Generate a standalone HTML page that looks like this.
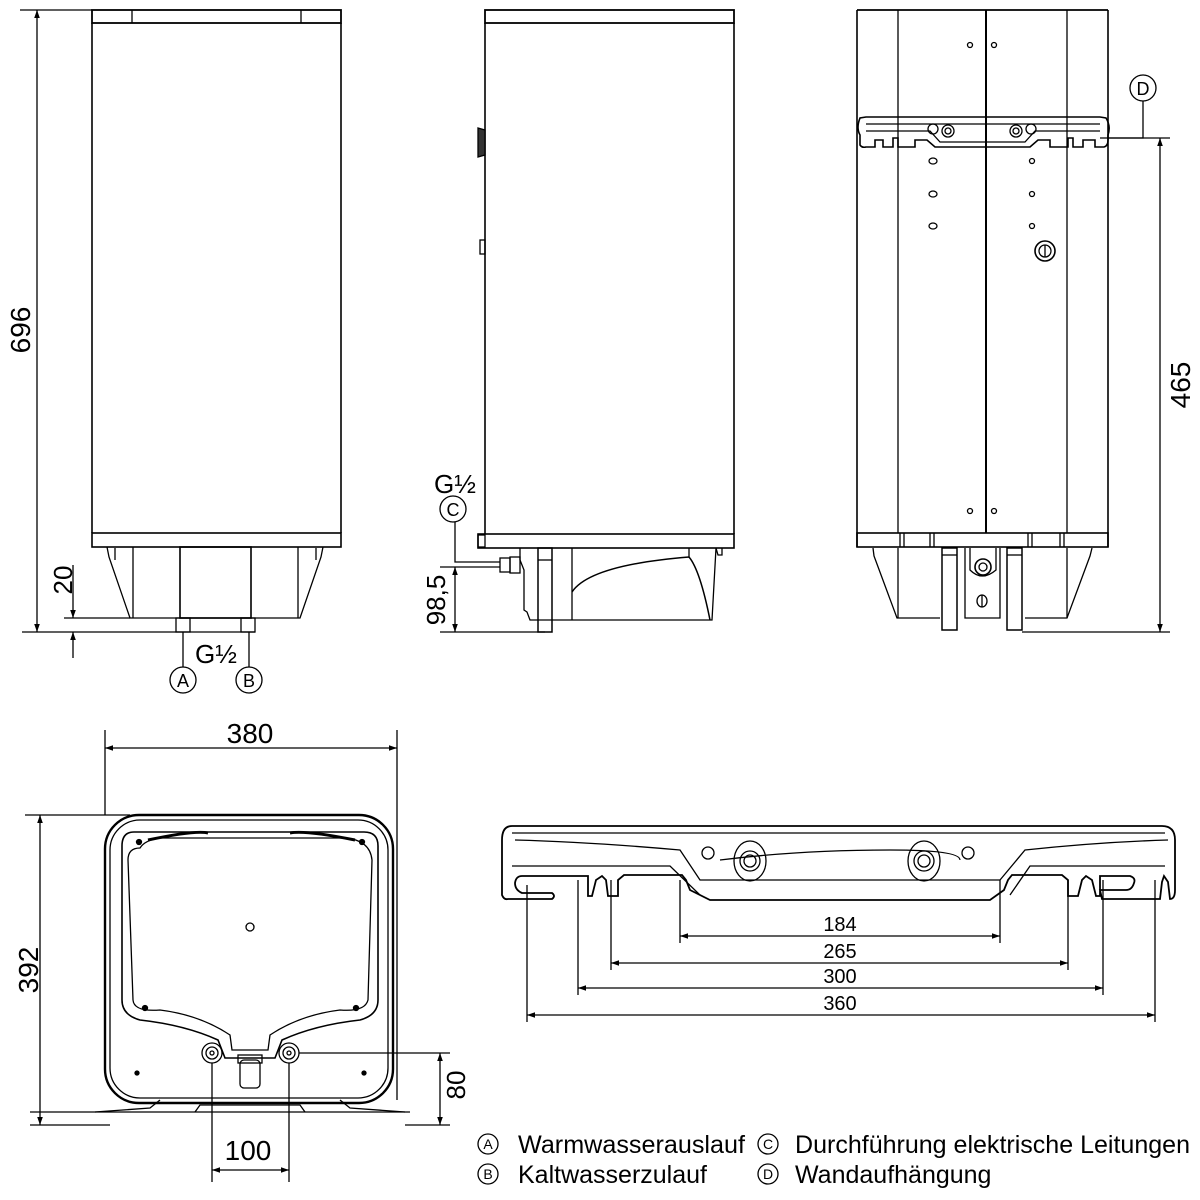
<!DOCTYPE html>
<html><head><meta charset="utf-8"><style>
html,body{margin:0;padding:0;background:#fff;}
svg{display:block;font-family:"Liberation Sans",Arial,sans-serif;}
</style></head><body>
<svg width="1200" height="1200" viewBox="0 0 1200 1200" xmlns="http://www.w3.org/2000/svg">
<defs>
<marker id="ar" viewBox="0 0 10 10" refX="10" refY="5" markerWidth="8" markerHeight="8" orient="auto-start-reverse" markerUnits="userSpaceOnUse"><path d="M0,1.5 L10,5 L0,8.5 Z" fill="#000"/></marker>
</defs>
<g fill="none" stroke="#000" stroke-width="1.3">
<!-- VIEW 1 front -->
<rect x="92" y="10" width="249" height="13" stroke-width="1.8"/>
<line x1="132" y1="10" x2="132" y2="23"/><line x1="301" y1="10" x2="301" y2="23"/>
<line x1="92" y1="23" x2="92" y2="533" stroke-width="1.6"/><line x1="341" y1="23" x2="341" y2="533" stroke-width="1.6"/>
<rect x="92" y="533" width="249" height="14" stroke-width="1.6"/>
<path d="M107,547 L109,557 L130,618 L300,618 L321,557 L323,547"/>
<line x1="115" y1="548" x2="115" y2="560"/><line x1="316" y1="548" x2="316" y2="560"/>
<line x1="133" y1="547" x2="133" y2="618"/><line x1="298" y1="547" x2="298" y2="618"/>
<rect x="180" y="547" width="71" height="71" stroke-width="1.6"/>
<rect x="176" y="618" width="14" height="14"/><rect x="241" y="618" width="14" height="14"/>
<line x1="20" y1="10" x2="92" y2="10"/>
<line x1="22" y1="632" x2="255" y2="632"/>
<line x1="37" y1="10" x2="37" y2="632" marker-start="url(#ar)" marker-end="url(#ar)"/>
<line x1="64" y1="618" x2="130" y2="618"/>
<line x1="73" y1="565" x2="73" y2="618" marker-end="url(#ar)"/>
<line x1="73" y1="658" x2="73" y2="632" marker-end="url(#ar)"/>
<line x1="183" y1="632" x2="183" y2="667"/><line x1="249" y1="632" x2="249" y2="667"/>
<circle cx="183" cy="680" r="13"/><circle cx="249" cy="680" r="13"/>

<!-- VIEW 2 side -->
<rect x="485" y="10" width="249" height="13" stroke-width="1.8"/>
<line x1="485" y1="23" x2="485" y2="534" stroke-width="1.6"/><line x1="734" y1="23" x2="734" y2="534" stroke-width="1.6"/>
<rect x="478" y="534" width="256" height="14" stroke-width="1.6"/>
<rect x="478" y="535" width="7" height="12"/>
<path d="M478,128 L485,130 L485,155 L478,157 Z" fill="#333"/>
<rect x="480" y="240" width="5" height="14"/>
<path d="M520,548 L520,560 L524,570 L524,610 L527,612 L530,620 L712,620 L716,548"/>
<path d="M716,548 L718,555 L722,555 L722,548"/>
<rect x="538" y="548" width="14" height="84" stroke-width="1.5"/>
<line x1="538" y1="560" x2="552" y2="560"/>
<line x1="572" y1="548" x2="572" y2="620"/>
<line x1="689" y1="548" x2="689" y2="557"/>
<path d="M572,592 Q590,565 689,557 Q700,570 710,620" stroke-width="1.5"/>
<rect x="500" y="558" width="10" height="14"/><rect x="510" y="557" width="10" height="16"/>
<circle cx="453" cy="509" r="13"/>
<path d="M455,522 L455,562 L500,562"/>
<line x1="440" y1="567" x2="500" y2="567"/>
<line x1="440" y1="632" x2="545" y2="632"/>
<line x1="455" y1="567" x2="455" y2="632" marker-start="url(#ar)" marker-end="url(#ar)"/>

<!-- VIEW 3 back -->
<line x1="857" y1="10" x2="1108" y2="10" stroke-width="1.8"/>
<line x1="857" y1="10" x2="857" y2="547" stroke-width="1.6"/><line x1="1108" y1="10" x2="1108" y2="547" stroke-width="1.6"/>
<line x1="898" y1="10" x2="898" y2="533"/><line x1="1067" y1="10" x2="1067" y2="533"/>
<line x1="986" y1="10" x2="986" y2="533" stroke-width="2"/>
<rect x="857" y="533" width="251" height="14" stroke-width="1.6"/>
<line x1="900" y1="533" x2="900" y2="547"/><line x1="904" y1="533" x2="904" y2="547"/>
<line x1="930" y1="533" x2="930" y2="547"/><line x1="934" y1="533" x2="934" y2="547"/>
<line x1="1028" y1="533" x2="1028" y2="547"/><line x1="1032" y1="533" x2="1032" y2="547"/>
<line x1="1060" y1="533" x2="1060" y2="547"/><line x1="1064" y1="533" x2="1064" y2="547"/>
<circle cx="970" cy="45" r="2.5"/><circle cx="994" cy="45" r="2.5"/>
<circle cx="970" cy="511" r="2.5"/><circle cx="994" cy="511" r="2.5"/>
<ellipse cx="933" cy="161" rx="4" ry="3"/><ellipse cx="933" cy="194" rx="4" ry="3"/><ellipse cx="933" cy="226" rx="4" ry="3"/>
<circle cx="1032" cy="161" r="2.5"/><circle cx="1032" cy="194" r="2.5"/><circle cx="1032" cy="226" r="2.5"/>
<circle cx="1045" cy="251" r="10" stroke-width="1.6"/><circle cx="1045" cy="251" r="6"/><line x1="1045" y1="245" x2="1045" y2="257"/>
<path d="M860,118 Q856,128 860,135 L860,145 Q862,148 866,147 L875,147 L875,140 L883,140 L883,147 L893,147 L893,138 L898,138 L898,147 L915,147 L915,140 L927,140 L935,147 L1030,147 L1038,140 L1050,140 L1050,147 L1068,147 L1068,138 L1073,138 L1073,147 L1083,147 L1083,140 L1095,140 L1095,147 L1104,147 Q1108,146 1108,140 L1108,135 Q1111,126 1106,118 L1100,117 L866,117 Z" stroke-width="1.6"/>
<path d="M866,124 L1100,124"/><path d="M866,131 L930,131 L940,142 L1025,142 L1035,131 L1100,131"/>
<circle cx="933" cy="129" r="5"/><circle cx="948" cy="131" r="6"/><circle cx="948" cy="131" r="3"/>
<circle cx="1031" cy="129" r="5"/><circle cx="1016" cy="131" r="6"/><circle cx="1016" cy="131" r="3"/>
<path d="M873,548 L874,556 L897,618 L940,618 M1025,618 L1067,618 L1090,556 L1092,548"/>
<line x1="898" y1="548" x2="898" y2="618"/><line x1="1067" y1="548" x2="1067" y2="618"/>
<rect x="942" y="548" width="15" height="82" stroke-width="1.5"/><rect x="1007" y="548" width="15" height="82" stroke-width="1.5"/>
<line x1="942" y1="555" x2="957" y2="555"/><line x1="1007" y1="555" x2="1022" y2="555"/>
<path d="M965,548 L965,618 L1000,618 L1000,548"/>
<path d="M970,548 L970,570 Q982,582 996,570 L996,548"/>
<circle cx="983" cy="567" r="8" stroke-width="1.6"/><circle cx="983" cy="567" r="4"/>
<ellipse cx="982" cy="601" rx="5" ry="6"/><line x1="982" y1="595" x2="982" y2="607"/>
<circle cx="1143" cy="88" r="13"/>
<path d="M1143,101 L1143,138 L1108,138"/>
<line x1="1100" y1="138" x2="1170" y2="138"/>
<line x1="1022" y1="632" x2="1170" y2="632"/>
<line x1="1160" y1="138" x2="1160" y2="632" marker-start="url(#ar)" marker-end="url(#ar)"/>

<!-- TOP VIEW bottom-left -->
<rect x="105" y="815" width="288" height="288" rx="34" stroke-width="2.4"/>
<rect x="110" y="820" width="278" height="278" rx="30"/>
<path d="M134,832 L364,832 Q378,832 378,846 L378,1000 Q378,1015 360,1020 Q315,1025 282,1040 L275,1058 L225,1058 L218,1040 Q185,1025 140,1020 Q122,1015 122,1000 L122,846 Q122,832 134,832 Z" stroke-width="1.6"/>
<path d="M148,840 Q195,830 208,833 M290,833 Q305,830 355,840" stroke-width="3"/>
<path d="M140,848 Q145,840 160,838 L345,838 Q370,840 372,860 L368,1000 Q365,1012 340,1010 Q300,1015 270,1035 L268,1050 L232,1050 L230,1035 Q200,1015 160,1010 Q134,1012 133,1000 L128,860 Q128,848 140,848 Z"/>
<circle cx="250" cy="927" r="4"/>
<circle cx="139" cy="842" r="2.5" fill="#000"/><circle cx="362" cy="842" r="2.5" fill="#000"/>
<circle cx="145" cy="1008" r="2.5" fill="#000"/><circle cx="356" cy="1008" r="2.5" fill="#000"/>
<circle cx="137" cy="1073" r="2" fill="#000"/><circle cx="364" cy="1073" r="2" fill="#000"/>
<circle cx="212" cy="1053" r="10"/><circle cx="212" cy="1053" r="6"/><circle cx="212" cy="1053" r="2"/>
<circle cx="289" cy="1053" r="10"/><circle cx="289" cy="1053" r="6"/><circle cx="289" cy="1053" r="2"/>
<rect x="240" y="1060" width="20" height="28" rx="4"/>
<rect x="238" y="1055" width="24" height="8"/>
<path d="M95,1112 L150,1108 L160,1100 M340,1100 L350,1108 L405,1112 M195,1112 L200,1105 L300,1105 L305,1112"/>
<line x1="30" y1="1112" x2="410" y2="1112"/>
<line x1="105" y1="730" x2="105" y2="815"/><line x1="397" y1="730" x2="397" y2="1100"/>
<line x1="105" y1="748" x2="397" y2="748" marker-start="url(#ar)" marker-end="url(#ar)"/>
<line x1="25" y1="815" x2="130" y2="815"/>
<line x1="40" y1="815" x2="40" y2="1125" marker-start="url(#ar)" marker-end="url(#ar)"/>
<line x1="30" y1="1125" x2="110" y2="1125"/>
<line x1="212" y1="1063" x2="212" y2="1182"/><line x1="289" y1="1063" x2="289" y2="1182"/>
<line x1="212" y1="1170" x2="289" y2="1170" marker-start="url(#ar)" marker-end="url(#ar)"/>
<line x1="299" y1="1053" x2="450" y2="1053"/>
<line x1="405" y1="1125" x2="450" y2="1125"/>
<line x1="440" y1="1053" x2="440" y2="1125" marker-start="url(#ar)" marker-end="url(#ar)"/>

<!-- BRACKET -->
<path d="M512,826 Q502,826 502,840 L502,895 Q504,900 508,899 L552,899 Q556,896 552,893 L522,893 Q515,890 515,883 Q516,876 522,876 L588,876 L588,896 L592,896 L596,880 L602,876 L606,880 L608,896 L618,896 L618,880 L624,875 L682,875 L686,880 L690,890 L710,900 L990,900 L1004,890 L1008,880 L1012,875 L1062,875 L1068,880 L1068,896 L1078,896 L1082,880 L1086,876 L1092,880 L1096,896 L1100,896 L1100,876 L1130,876 Q1136,878 1134,883 Q1132,890 1126,890 L1100,890 L1102,899 L1160,899 L1162,882 L1164,876 L1168,882 L1170,899 Q1175,899 1175,890 L1175,840 Q1175,826 1162,826 Z" stroke-width="1.8"/>
<path d="M512,833 L1165,833 M512,866 L670,866 L700,895 M1010,895 L1030,866 L1165,866"/>
<path d="M515,840 Q590,842 680,850 L700,880 L1000,880 L1025,850 Q1100,842 1168,840"/>
<path d="M720,860 Q800,850 890,850 Q960,850 960,860"/>
<circle cx="708" cy="853" r="6"/><circle cx="968" cy="853" r="6"/>
<ellipse cx="750" cy="861" rx="16" ry="20"/><circle cx="750" cy="861" r="10"/><circle cx="750" cy="861" r="6"/>
<ellipse cx="924" cy="861" rx="16" ry="20"/><circle cx="924" cy="861" r="10"/><circle cx="924" cy="861" r="6"/>
<line x1="527" y1="885" x2="527" y2="1022"/><line x1="578" y1="880" x2="578" y2="995"/>
<line x1="611" y1="880" x2="611" y2="970"/><line x1="680" y1="880" x2="680" y2="943"/>
<line x1="1000" y1="880" x2="1000" y2="943"/><line x1="1068" y1="880" x2="1068" y2="970"/>
<line x1="1103" y1="880" x2="1103" y2="995"/><line x1="1155" y1="880" x2="1155" y2="1022"/>
<line x1="680" y1="936" x2="1000" y2="936" marker-start="url(#ar)" marker-end="url(#ar)"/>
<line x1="611" y1="963" x2="1068" y2="963" marker-start="url(#ar)" marker-end="url(#ar)"/>
<line x1="578" y1="988" x2="1103" y2="988" marker-start="url(#ar)" marker-end="url(#ar)"/>
<line x1="527" y1="1015" x2="1155" y2="1015" marker-start="url(#ar)" marker-end="url(#ar)"/>

<!-- legend circles -->
<circle cx="488" cy="1144" r="10"/><circle cx="488" cy="1174" r="10"/>
<circle cx="768" cy="1144" r="10"/><circle cx="768" cy="1174" r="10"/>
</g>
<g fill="#000" font-size="28">
<text transform="translate(30,330) rotate(-90)" text-anchor="middle">696</text>
<text transform="translate(72,580) rotate(-90)" text-anchor="middle" font-size="26">20</text>
<text x="216" y="663" text-anchor="middle" font-size="26">G½</text>
<text x="183" y="687" text-anchor="middle" font-size="18">A</text>
<text x="249" y="687" text-anchor="middle" font-size="18">B</text>
<text x="455" y="493" text-anchor="middle" font-size="26">G½</text>
<text x="453" y="516" text-anchor="middle" font-size="18">C</text>
<text transform="translate(445,600) rotate(-90)" text-anchor="middle" font-size="26">98,5</text>
<text x="1143" y="95" text-anchor="middle" font-size="18">D</text>
<text transform="translate(1190,385) rotate(-90)" text-anchor="middle">465</text>
<text x="250" y="743" text-anchor="middle">380</text>
<text transform="translate(38,970) rotate(-90)" text-anchor="middle">392</text>
<text x="248" y="1160" text-anchor="middle">100</text>
<text transform="translate(465,1085) rotate(-90)" text-anchor="middle" font-size="26">80</text>
<text x="840" y="931" text-anchor="middle" font-size="20">184</text>
<text x="840" y="958" text-anchor="middle" font-size="20">265</text>
<text x="840" y="983" text-anchor="middle" font-size="20">300</text>
<text x="840" y="1010" text-anchor="middle" font-size="20">360</text>
<g font-size="14" text-anchor="middle"><text x="488" y="1149">A</text><text x="488" y="1179">B</text><text x="768" y="1149">C</text><text x="768" y="1179">D</text></g>
<g font-size="25"><text x="518" y="1153" textLength="227" lengthAdjust="spacingAndGlyphs">Warmwasserauslauf</text><text x="518" y="1183">Kaltwasserzulauf</text>
<text x="795" y="1153" textLength="395" lengthAdjust="spacingAndGlyphs">Durchführung elektrische Leitungen</text><text x="795" y="1183">Wandaufhängung</text></g>
</g>
</svg>
</body></html>
